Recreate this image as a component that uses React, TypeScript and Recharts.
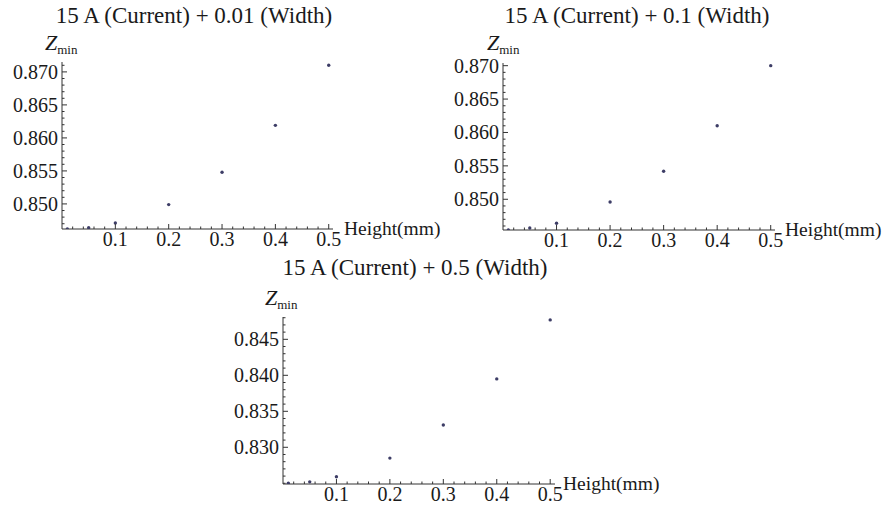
import React from 'react';
import { ScatterChart, Scatter, XAxis, YAxis } from 'recharts';

// Heights (mm) sampled in every panel
const heights = [0.01, 0.05, 0.1, 0.2, 0.3, 0.4, 0.5];

// Z_min
const zminWidth001 = [0.8462, 0.8464, 0.8471, 0.8499, 0.8548, 0.8619, 0.871];
const zminWidth01 = [0.8454, 0.8457, 0.8464, 0.8496, 0.8542, 0.861, 0.87];
const zminWidth05 = [0.825, 0.8252, 0.8259, 0.8285, 0.8331, 0.8395, 0.8477];

// Tick labels
const xMajorTicks = [0.1, 0.2, 0.3, 0.4, 0.5];
const yMajorTicksTop = [0.85, 0.855, 0.86, 0.865, 0.87];
const yMajorTicksBottom = [0.83, 0.835, 0.84, 0.845];

const FONT = "'Liberation Serif', 'Times New Roman', 'DejaVu Serif', serif";
const AXIS = '#333';
const INK = '#1a1a1a';
const DOT = '#3d3d66';
const serif = { fontFamily: FONT };

// minor tick positions between lo and hi
const stepTicks = (lo: number, hi: number, step: number) => {
  const out: number[] = [];
  const n = Math.floor((hi - lo) / step + 1e-6);
  for (let i = 0; i <= n; i++) out.push(Math.round((lo + i * step) * 1e6) / 1e6);
  return out;
};

const isIn = (v: number, list: number[]) => list.some((m) => Math.abs(m - v) < 1e-7);

const xTicks = stepTicks(0.02, 0.5, 0.02)
  .filter((v) => !isIn(v, xMajorTicks))
  .concat(xMajorTicks);

interface PanelProps {
  values: number[];
  left: number;
  top: number;
  width: number;
  height: number;
  margin: { top: number; right: number; bottom: number; left: number };
  yAxisWidth: number;
  xMax: number;
  yDomain: [number, number];
  yMajor: number[];
}

const Panel: React.FC<PanelProps> = ({
  values,
  left,
  top,
  width,
  height,
  margin,
  yAxisWidth,
  xMax,
  yDomain,
  yMajor,
}) => {
  const data = heights.map((h, i) => ({ x: h, y: values[i] }));
  const yTicks = stepTicks(Math.ceil(yDomain[0] * 1000) / 1000, yDomain[1], 0.001)
    .filter((v) => !isIn(v, yMajor))
    .concat(yMajor);

  const renderXTick = (props: any) => {
    const { x, y, payload } = props;
    const major = isIn(payload.value, xMajorTicks);
    return (
      <g>
        <line x1={x} x2={x} y1={y} y2={y - (major ? 5 : 2.5)} stroke={AXIS} strokeWidth={1} />
        {major && (
          <text x={x} y={y + 17} textAnchor="middle" style={serif} fontSize={20} fill={INK}>
            {String(payload.value)}
          </text>
        )}
      </g>
    );
  };

  const renderYTick = (props: any) => {
    const { x, y, payload } = props;
    const major = isIn(payload.value, yMajor);
    return (
      <g>
        <line x1={x} x2={x + (major ? 5 : 2.5)} y1={y} y2={y} stroke={AXIS} strokeWidth={1} />
        {major && (
          <text x={x - 4} y={y + 7} textAnchor="end" style={serif} fontSize={20} fill={INK}>
            {payload.value.toFixed(3)}
          </text>
        )}
      </g>
    );
  };

  return (
    <div style={{ position: 'absolute', left, top }}>
      <ScatterChart width={width} height={height} margin={margin}>
        <XAxis
          type="number"
          dataKey="x"
          domain={[0, xMax]}
          allowDataOverflow
          ticks={xTicks}
          interval={0}
          tickSize={0}
          tickMargin={0}
          tickLine={false}
          height={20}
          axisLine={{ stroke: AXIS }}
          tick={renderXTick}
        />
        <YAxis
          type="number"
          dataKey="y"
          domain={yDomain}
          allowDataOverflow
          ticks={yTicks}
          interval={0}
          tickSize={0}
          tickMargin={0}
          tickLine={false}
          width={yAxisWidth}
          axisLine={{ stroke: AXIS }}
          tick={renderYTick}
        />
        <Scatter
          data={data}
          isAnimationActive={false}
          shape={(p: any) => <circle cx={p.cx} cy={p.cy} r={1.7} fill={DOT} />}
        />
      </ScatterChart>
    </div>
  );
};

const ZLabel = ({ x, y }: { x: number; y: number }) => (
  <text x={x} y={y} style={serif} fill={INK}>
    <tspan fontSize={22} fontStyle="italic">Z</tspan>
    <tspan fontSize={13} dy={4}>min</tspan>
  </text>
);

const Titles = () => (
  <svg
    width={886}
    height={510}
    style={{ position: 'absolute', left: 0, top: 0, pointerEvents: 'none' }}
  >
    <g style={serif} fill={INK}>
      <text x={194} y={23} fontSize={23} textAnchor="middle" style={serif}>15 A (Current) + 0.01 (Width)</text>
      <text x={637} y={23} fontSize={23} textAnchor="middle" style={serif}>15 A (Current) + 0.1 (Width)</text>
      <text x={415} y={275} fontSize={23} textAnchor="middle" style={serif}>15 A (Current) + 0.5 (Width)</text>
      <text x={344} y={235} fontSize={19.5} style={serif}>Height(mm)</text>
      <text x={785} y={236} fontSize={19.5} style={serif}>Height(mm)</text>
      <text x={563} y={490} fontSize={19.5} style={serif}>Height(mm)</text>
    </g>
    <ZLabel x={45} y={50} />
    <ZLabel x={487} y={50} />
    <ZLabel x={265} y={305} />
  </svg>
);

const App: React.FC = () => (
  <div
    style={{
      position: 'absolute',
      left: 0,
      top: 0,
      width: 886,
      height: 510,
      background: '#fff',
      overflow: 'hidden',
      fontFamily: FONT,
    }}
  >
    <Panel
      values={zminWidth001}
      left={0}
      top={0}
      width={440}
      height={260}
      margin={{ top: 62, right: 107, bottom: 11, left: 0 }}
      yAxisWidth={62}
      xMax={0.508}
      yDomain={[0.8462, 0.8715]}
      yMajor={yMajorTicksTop}
    />
    <Panel
      values={zminWidth01}
      left={440}
      top={0}
      width={446}
      height={260}
      margin={{ top: 63, right: 111, bottom: 10, left: 0 }}
      yAxisWidth={63}
      xMax={0.508}
      yDomain={[0.8454, 0.8704]}
      yMajor={yMajorTicksTop}
    />
    <Panel
      values={zminWidth05}
      left={200}
      top={250}
      width={430}
      height={260}
      margin={{ top: 67, right: 75, bottom: 6, left: 0 }}
      yAxisWidth={83}
      xMax={0.509}
      yDomain={[0.8249, 0.8481]}
      yMajor={yMajorTicksBottom}
    />
    <Titles />
  </div>
);

export default App;
